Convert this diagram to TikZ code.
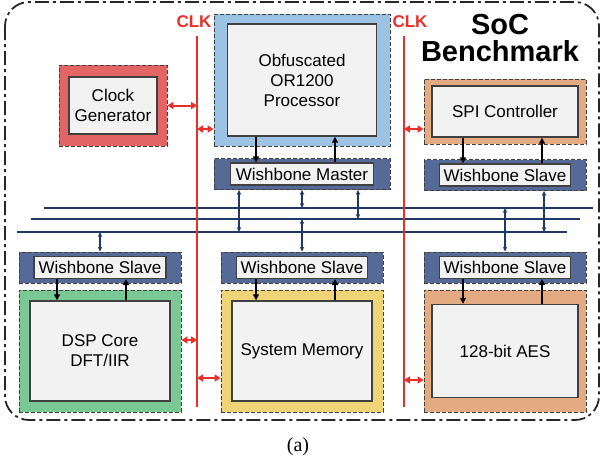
\documentclass[tikz,border=0pt]{standalone}
\usepackage{fontspec}
\setmainfont{Liberation Sans}
\newfontfamily\captionserif{Liberation Serif}
\usetikzlibrary{arrows.meta}

\definecolor{clkred}{RGB}{232,48,40}
\definecolor{busblue}{RGB}{32,56,100}
\definecolor{wbfill}{RGB}{86,106,152}
\definecolor{genred}{RGB}{226,100,100}
\definecolor{cpublue}{RGB}{157,195,228}
\definecolor{periorange}{RGB}{228,170,130}
\definecolor{dspgreen}{RGB}{122,200,148}
\definecolor{memyellow}{RGB}{240,212,120}
\definecolor{corefill}{RGB}{242,242,242}
\definecolor{edgegray}{RGB}{64,64,64}

\tikzset{
  shell/.style={draw=edgegray, line width=0.8pt, dash pattern=on 4pt off 2pt, inner sep=0pt},
  core/.style={draw=edgegray, line width=1.4pt, fill=corefill, align=center, inner sep=0pt,
    font=\fontsize{17}{20}\selectfont},
  wbshell/.style={shell, fill=wbfill, minimum width=162pt, minimum height=31pt},
  wbcore/.style={core, minimum height=22pt, line width=1.2pt},
  bus/.style={draw=busblue, line width=2.6pt},
  busarrow/.style={draw=busblue, line width=1.2pt,
    {Stealth[length=5pt,width=4.5pt]}-{Stealth[length=5pt,width=4.5pt]}},
  clkline/.style={draw=clkred, line width=2.8pt},
  clkarrow/.style={draw=clkred, line width=2pt,
    {Triangle[length=6pt,width=7pt]}-{Triangle[length=6pt,width=7pt]}},
  dataarrow/.style={draw=black, line width=1.4pt, -{Triangle[length=6pt,width=6pt]}},
  clklabel/.style={text=clkred, font=\bfseries\fontsize{17}{20}\selectfont},
  titletext/.style={font=\bfseries\fontsize{29}{29}\selectfont, inner sep=0pt}
}

\begin{document}
\begin{tikzpicture}[x=1pt,y=-1pt]
\useasboundingbox (0,0) rectangle (602,467);

% chip frame
\draw[edgegray!60!black, line width=1.8pt, rounded corners=24pt,
  dash pattern=on 14pt off 4pt on 3pt off 4pt] (5,2) rectangle (599,420);
\node[titletext] (title-top) at (500,25) {SoC};
\node[titletext] (title-bot) at (500,51) {Benchmark};

% wishbone bus
\coordinate (busA-w) at (44,208);  \coordinate (busA-e) at (593,208);
\coordinate (busB-w) at (31,219);  \coordinate (busB-e) at (580,219);
\coordinate (busC-w) at (17,232);  \coordinate (busC-e) at (567,232);
\draw[bus] (busA-w) -- (busA-e);
\draw[bus] (busB-w) -- (busB-e);
\draw[bus] (busC-w) -- (busC-e);

% clock lines
\coordinate (clkL-top) at (197,36);  \coordinate (clkL-bot) at (197,407);
\coordinate (clkR-top) at (404,36);  \coordinate (clkR-bot) at (404,407);
\draw[clkline] (clkL-top) -- (clkL-bot);
\draw[clkline] (clkR-top) -- (clkR-bot);
\node[clklabel] (clkL-lab) at (194,22) {CLK};
\node[clklabel] (clkR-lab) at (410,22) {CLK};

% top row
\node[shell, fill=genred, minimum width=108pt, minimum height=81pt] (gen) at (113,105.5) {};
\node[core, minimum width=88pt, minimum height=57pt] (gen-core) at (gen) {Clock\\Generator};

\node[shell, fill=cpublue, minimum width=176pt, minimum height=132pt] (cpu) at (302,80) {};
\node[core, minimum width=149pt, minimum height=112pt] (cpu-core) at (cpu) {Obfuscated\\OR1200\\Processor};
\node[wbshell, minimum width=176pt] (wbm) at (302,174) {};
\node[wbcore, minimum width=143pt] (wbm-core) at (wbm) {Wishbone Master};

\node[shell, fill=periorange, minimum width=162pt, minimum height=65pt] (spi) at (505,111.5) {};
\node[core, minimum width=146pt, minimum height=51pt] (spi-core) at (spi) {SPI Controller};
\node[wbshell] (wbs-spi) at (505,175) {};
\node[wbcore, minimum width=131pt] (wbs-spi-core) at (wbs-spi) {Wishbone Slave};

% bottom row
\node[wbshell] (wbs-dsp) at (100,267.5) {};
\node[wbcore, minimum width=132pt] (wbs-dsp-core) at (wbs-dsp) {Wishbone Slave};
\node[shell, fill=dspgreen, minimum width=162pt, minimum height=122pt] (dsp) at (100,351) {};
\node[core, minimum width=140pt, minimum height=100pt] (dsp-core) at (dsp) {DSP Core\\DFT/IIR};

\node[wbshell] (wbs-mem) at (302,267.5) {};
\node[wbcore, minimum width=131pt] (wbs-mem-core) at (wbs-mem) {Wishbone Slave};
\node[shell, fill=memyellow, minimum width=162pt, minimum height=122pt] (mem) at (302,351) {};
\node[core, minimum width=140pt, minimum height=100pt] (mem-core) at (mem) {System Memory};

\node[wbshell] (wbs-aes) at (505,267.5) {};
\node[wbcore, minimum width=131pt] (wbs-aes-core) at (wbs-aes) {Wishbone Slave};
\node[shell, fill=periorange, minimum width=162pt, minimum height=122pt] (aes) at (505,351) {};
\node[core, minimum width=146pt, minimum height=93pt] (aes-core) at (aes) {128-bit AES};

% bus taps
\draw[busarrow] ([xshift=-63pt]wbm.south) -- ([xshift=-63pt]wbm.south |- busC-w);
\draw[busarrow] (wbm.south) -- (wbm.south |- busA-w);
\draw[busarrow] ([xshift=56pt]wbm.south) -- ([xshift=56pt]wbm.south |- busB-w);
\draw[busarrow] ([xshift=39pt]wbs-spi.south) -- ([xshift=39pt]wbs-spi.south |- busC-w);
\draw[busarrow] (busC-w -| wbs-dsp.north) -- (wbs-dsp.north);
\draw[busarrow] (busB-w -| wbs-mem.north) -- (wbs-mem.north);
\draw[busarrow] (busA-w -| wbs-aes.north) -- (wbs-aes.north);

% data paths
\draw[dataarrow] ([xshift=-46pt]cpu-core.south) -- ([xshift=-46pt]cpu-core.south |- wbm-core.north);
\draw[dataarrow] ([xshift=33pt]wbm-core.north) -- ([xshift=33pt]wbm-core.north |- cpu-core.south);
\draw[dataarrow] ([xshift=-42pt]spi-core.south) -- ([xshift=-42pt]spi-core.south |- wbs-spi-core.north);
\draw[dataarrow] ([xshift=37pt]wbs-spi-core.north) -- ([xshift=37pt]wbs-spi-core.north |- spi-core.south);
\draw[dataarrow] ([xshift=-43pt]wbs-dsp-core.south) -- ([xshift=-43pt]wbs-dsp-core.south |- dsp-core.north);
\draw[dataarrow] ([xshift=26pt]dsp-core.north) -- ([xshift=26pt]dsp-core.north |- wbs-dsp-core.south);
\draw[dataarrow] ([xshift=-46pt]wbs-mem-core.south) -- ([xshift=-46pt]wbs-mem-core.south |- mem-core.north);
\draw[dataarrow] ([xshift=33pt]mem-core.north) -- ([xshift=33pt]mem-core.north |- wbs-mem-core.south);
\draw[dataarrow] ([xshift=-42pt]wbs-aes-core.south) -- ([xshift=-42pt]wbs-aes-core.south |- aes-core.north);
\draw[dataarrow] ([xshift=37pt]aes-core.north) -- ([xshift=37pt]aes-core.north |- wbs-aes-core.south);

% clock taps
\draw[clkarrow] (gen.east) -- (gen.east -| clkL-top);
\draw[clkarrow] (clkL-top |- 0,129) -- (cpu.west |- 0,129);
\draw[clkarrow] (clkR-top |- 0,129) -- (spi.west |- 0,129);
\draw[clkarrow] (dsp.east |- 0,340) -- (clkL-top |- 0,340);
\draw[clkarrow] (clkL-top |- 0,378) -- (mem.west |- 0,378);
\draw[clkarrow] (clkR-top |- 0,380) -- (aes.west |- 0,380);

\node[font=\captionserif\fontsize{20}{22}\selectfont] (caption) at (298,447) {(a)};
\end{tikzpicture}
\end{document}
